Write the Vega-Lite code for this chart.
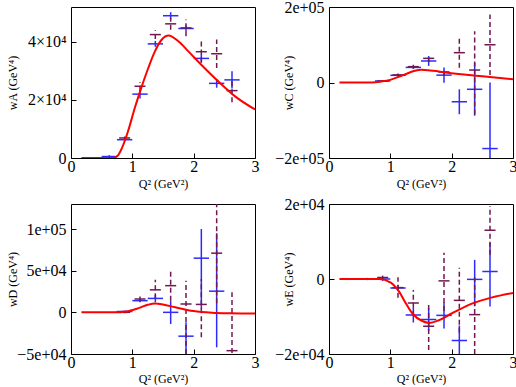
{
 "$schema": "https://vega.github.io/schema/vega-lite/v6.json",
 "padding": {"left": 5, "top": -2, "right": 0, "bottom": 0},
 "datasets": {
  "pts": [
   {"p":"A","s":"b","q2":0.625,"y":500,"ylo":0,"yhi":1000,"xlo":0.5,"xhi":0.75},
   {"p":"A","s":"b","q2":0.875,"y":6300,"ylo":5800,"yhi":6800,"xlo":0.75,"xhi":1.0},
   {"p":"A","s":"b","q2":1.125,"y":22000,"ylo":20500,"yhi":23500,"xlo":1.0,"xhi":1.25},
   {"p":"A","s":"b","q2":1.375,"y":39300,"ylo":38300,"yhi":40300,"xlo":1.25,"xhi":1.5},
   {"p":"A","s":"b","q2":1.625,"y":49000,"ylo":47800,"yhi":50200,"xlo":1.5,"xhi":1.75},
   {"p":"A","s":"b","q2":1.875,"y":44600,"ylo":43600,"yhi":45600,"xlo":1.75,"xhi":2.0},
   {"p":"A","s":"b","q2":2.125,"y":34300,"ylo":32800,"yhi":35800,"xlo":2.0,"xhi":2.25},
   {"p":"A","s":"b","q2":2.375,"y":25700,"ylo":24200,"yhi":27200,"xlo":2.25,"xhi":2.5},
   {"p":"A","s":"b","q2":2.625,"y":26900,"ylo":23900,"yhi":29900,"xlo":2.5,"xhi":2.75},
   {"p":"A","s":"m","q2":0.875,"y":6900,"ylo":6400,"yhi":7400,"xlo":0.785,"xhi":0.965},
   {"p":"A","s":"m","q2":1.125,"y":24700,"ylo":23200,"yhi":26200,"xlo":1.035,"xhi":1.215},
   {"p":"A","s":"m","q2":1.375,"y":42500,"ylo":41000,"yhi":44000,"xlo":1.285,"xhi":1.465},
   {"p":"A","s":"m","q2":1.625,"y":46200,"ylo":44200,"yhi":48200,"xlo":1.535,"xhi":1.715},
   {"p":"A","s":"m","q2":1.875,"y":44800,"ylo":41900,"yhi":47700,"xlo":1.785,"xhi":1.965},
   {"p":"A","s":"m","q2":2.125,"y":36600,"ylo":32900,"yhi":40300,"xlo":2.035,"xhi":2.215},
   {"p":"A","s":"m","q2":2.375,"y":35900,"ylo":31000,"yhi":40800,"xlo":2.285,"xhi":2.465},
   {"p":"A","s":"m","q2":2.625,"y":23200,"ylo":19200,"yhi":27200,"xlo":2.535,"xhi":2.715},

   {"p":"C","s":"b","q2":0.875,"y":4000,"ylo":2000,"yhi":6000,"xlo":0.75,"xhi":1.0},
   {"p":"C","s":"b","q2":1.125,"y":19000,"ylo":16000,"yhi":22000,"xlo":1.0,"xhi":1.25},
   {"p":"C","s":"b","q2":1.375,"y":40000,"ylo":36000,"yhi":44000,"xlo":1.25,"xhi":1.5},
   {"p":"C","s":"b","q2":1.625,"y":57000,"ylo":44000,"yhi":70000,"xlo":1.5,"xhi":1.75},
   {"p":"C","s":"b","q2":1.875,"y":19500,"ylo":-500,"yhi":39500,"xlo":1.75,"xhi":2.0},
   {"p":"C","s":"b","q2":2.125,"y":-51000,"ylo":-84000,"yhi":-18000,"xlo":2.0,"xhi":2.25},
   {"p":"C","s":"b","q2":2.375,"y":-18000,"ylo":-88000,"yhi":52000,"xlo":2.25,"xhi":2.5},
   {"p":"C","s":"b","q2":2.625,"y":-175000,"ylo":-350000,"yhi":0,"xlo":2.5,"xhi":2.75},
   {"p":"C","s":"m","q2":0.875,"y":4000,"ylo":2000,"yhi":6000,"xlo":0.785,"xhi":0.965},
   {"p":"C","s":"m","q2":1.125,"y":20000,"ylo":16000,"yhi":24000,"xlo":1.035,"xhi":1.215},
   {"p":"C","s":"m","q2":1.375,"y":42000,"ylo":37000,"yhi":47000,"xlo":1.285,"xhi":1.465},
   {"p":"C","s":"m","q2":1.625,"y":64000,"ylo":54000,"yhi":74000,"xlo":1.535,"xhi":1.715},
   {"p":"C","s":"m","q2":1.875,"y":28000,"ylo":18000,"yhi":38000,"xlo":1.785,"xhi":1.965},
   {"p":"C","s":"m","q2":2.125,"y":79000,"ylo":39000,"yhi":119000,"xlo":2.035,"xhi":2.215},
   {"p":"C","s":"m","q2":2.375,"y":33000,"ylo":-85000,"yhi":136000,"xlo":2.285,"xhi":2.465},
   {"p":"C","s":"m","q2":2.625,"y":100000,"ylo":20000,"yhi":180000,"xlo":2.535,"xhi":2.715},

   {"p":"D","s":"b","q2":0.875,"y":1000,"ylo":0,"yhi":2000,"xlo":0.75,"xhi":1.0},
   {"p":"D","s":"b","q2":1.125,"y":14000,"ylo":12000,"yhi":16000,"xlo":1.0,"xhi":1.25},
   {"p":"D","s":"b","q2":1.375,"y":16700,"ylo":12000,"yhi":21000,"xlo":1.25,"xhi":1.5},
   {"p":"D","s":"b","q2":1.625,"y":0,"ylo":-14000,"yhi":14000,"xlo":1.5,"xhi":1.75},
   {"p":"D","s":"b","q2":1.875,"y":-28600,"ylo":-50000,"yhi":-12000,"xlo":1.75,"xhi":2.0},
   {"p":"D","s":"b","q2":2.125,"y":65000,"ylo":4000,"yhi":100000,"xlo":2.0,"xhi":2.25},
   {"p":"D","s":"b","q2":2.375,"y":25400,"ylo":-42000,"yhi":95000,"xlo":2.25,"xhi":2.5},
   {"p":"D","s":"m","q2":0.875,"y":0,"ylo":-1000,"yhi":1000,"xlo":0.785,"xhi":0.965},
   {"p":"D","s":"m","q2":1.125,"y":16000,"ylo":13000,"yhi":19000,"xlo":1.035,"xhi":1.215},
   {"p":"D","s":"m","q2":1.375,"y":27000,"ylo":17000,"yhi":39000,"xlo":1.285,"xhi":1.465},
   {"p":"D","s":"m","q2":1.625,"y":32000,"ylo":14000,"yhi":50000,"xlo":1.535,"xhi":1.715},
   {"p":"D","s":"m","q2":1.875,"y":10000,"ylo":-50000,"yhi":38000,"xlo":1.785,"xhi":1.965},
   {"p":"D","s":"m","q2":2.125,"y":9500,"ylo":-30000,"yhi":40000,"xlo":2.035,"xhi":2.215},
   {"p":"D","s":"m","q2":2.375,"y":71000,"ylo":11000,"yhi":131000,"xlo":2.285,"xhi":2.465},
   {"p":"D","s":"m","q2":2.625,"y":-46000,"ylo":-116000,"yhi":24000,"xlo":2.535,"xhi":2.715},

   {"p":"E","s":"b","q2":0.625,"y":0,"ylo":-300,"yhi":300,"xlo":0.5,"xhi":0.75},
   {"p":"E","s":"b","q2":0.875,"y":0,"ylo":-500,"yhi":500,"xlo":0.75,"xhi":1.0},
   {"p":"E","s":"b","q2":1.125,"y":-2400,"ylo":-3200,"yhi":-1600,"xlo":1.0,"xhi":1.25},
   {"p":"E","s":"b","q2":1.375,"y":-9600,"ylo":-11600,"yhi":-7600,"xlo":1.25,"xhi":1.5},
   {"p":"E","s":"b","q2":1.625,"y":-10800,"ylo":-13800,"yhi":-7800,"xlo":1.5,"xhi":1.75},
   {"p":"E","s":"b","q2":1.875,"y":-9700,"ylo":-13200,"yhi":-6200,"xlo":1.75,"xhi":2.0},
   {"p":"E","s":"b","q2":2.125,"y":-16400,"ylo":-20400,"yhi":-12400,"xlo":2.0,"xhi":2.25},
   {"p":"E","s":"b","q2":2.375,"y":-100,"ylo":-7300,"yhi":5100,"xlo":2.25,"xhi":2.5},
   {"p":"E","s":"b","q2":2.625,"y":2000,"ylo":-7300,"yhi":9700,"xlo":2.5,"xhi":2.75},
   {"p":"E","s":"m","q2":0.875,"y":400,"ylo":-100,"yhi":900,"xlo":0.785,"xhi":0.965},
   {"p":"E","s":"m","q2":1.125,"y":-2300,"ylo":-5000,"yhi":500,"xlo":1.035,"xhi":1.215},
   {"p":"E","s":"m","q2":1.375,"y":-6400,"ylo":-9800,"yhi":-2900,"xlo":1.285,"xhi":1.465},
   {"p":"E","s":"m","q2":1.625,"y":-12600,"ylo":-18900,"yhi":-6800,"xlo":1.535,"xhi":1.715},
   {"p":"E","s":"m","q2":1.875,"y":-500,"ylo":-8500,"yhi":7000,"xlo":1.785,"xhi":1.965},
   {"p":"E","s":"m","q2":2.125,"y":-5700,"ylo":-14300,"yhi":3000,"xlo":2.035,"xhi":2.215},
   {"p":"E","s":"m","q2":2.375,"y":-9500,"ylo":-20000,"yhi":500,"xlo":2.285,"xhi":2.465},
   {"p":"E","s":"m","q2":2.625,"y":13000,"ylo":6500,"yhi":19500,"xlo":2.535,"xhi":2.715}
  ],
  "curve": [
   {"p":"A","q2":0.17,"w":0},{"p":"A","q2":0.5,"w":0},{"p":"A","q2":0.65,"w":0},{"p":"A","q2":0.72,"w":200},{"p":"A","q2":0.77,"w":1000},{"p":"A","q2":0.83,"w":3400},{"p":"A","q2":0.93,"w":9200},{"p":"A","q2":1.04,"w":17200},{"p":"A","q2":1.15,"w":24400},{"p":"A","q2":1.26,"w":31000},{"p":"A","q2":1.37,"w":36800},{"p":"A","q2":1.48,"w":40800},{"p":"A","q2":1.59,"w":42200},{"p":"A","q2":1.75,"w":40200},{"p":"A","q2":1.91,"w":36800},{"p":"A","q2":2.12,"w":32200},{"p":"A","q2":2.4,"w":26400},{"p":"A","q2":2.67,"w":21300},{"p":"A","q2":3.0,"w":16700},
   {"p":"C","q2":0.17,"w":0},{"p":"C","q2":0.7,"w":0},{"p":"C","q2":0.85,"w":2500},{"p":"C","q2":1.0,"w":7000},{"p":"C","q2":1.2,"w":19000},{"p":"C","q2":1.4,"w":31000},{"p":"C","q2":1.5,"w":34000},{"p":"C","q2":1.7,"w":31000},{"p":"C","q2":1.9,"w":26500},{"p":"C","q2":2.2,"w":21000},{"p":"C","q2":2.5,"w":16500},{"p":"C","q2":3.0,"w":8800},
   {"p":"D","q2":0.17,"w":0},{"p":"D","q2":0.7,"w":0},{"p":"D","q2":0.9,"w":1000},{"p":"D","q2":1.1,"w":5000},{"p":"D","q2":1.25,"w":9000},{"p":"D","q2":1.37,"w":10700},{"p":"D","q2":1.5,"w":9500},{"p":"D","q2":1.7,"w":6000},{"p":"D","q2":2.0,"w":1500},{"p":"D","q2":2.3,"w":-500},{"p":"D","q2":2.6,"w":-1200},{"p":"D","q2":3.0,"w":-1500},
   {"p":"E","q2":0.17,"w":0},{"p":"E","q2":0.82,"w":0},{"p":"E","q2":1.0,"w":-900},{"p":"E","q2":1.14,"w":-3300},{"p":"E","q2":1.25,"w":-6400},{"p":"E","q2":1.36,"w":-9200},{"p":"E","q2":1.52,"w":-11200},{"p":"E","q2":1.63,"w":-11700},{"p":"E","q2":1.79,"w":-11000},{"p":"E","q2":2.0,"w":-9200},{"p":"E","q2":2.34,"w":-6500},{"p":"E","q2":2.66,"w":-4900},{"p":"E","q2":3.0,"w":-3700}
  ]
 },
 "columns": 2,
 "spacing": {"row": 46, "column": 74},
 "bounds": "flush",
 "concat": [
   {"width": 184, "height": 151, "layer": [
    {"data":{"name":"pts"},"transform":[{"filter":"datum.p==='A' && datum.s==='b'"}],"mark":{"type":"rule","color":"#2b2bff","strokeWidth":1.5,"clip":true},
     "encoding":{"x":{"field":"q2","type":"quantitative","scale":{"domain":[0,3],"nice":false,"zero":false},
       "axis":{"title":"Q² (GeV²)","values":[0,0.5,1,1.5,2,2.5,3],"labelExpr":"datum.value % 1 === 0 ? '' + datum.value : ''","tickSize":{"condition":{"test":"datum.value % 1 === 0","value":-5},"value":-3},"labelPadding":5,"titleX":92,"titleY":25,"titleBaseline":"middle","labelFlush":false,"labelOverlap":false}},
      "y":{"field":"ylo","type":"quantitative","scale":{"domain":[0,52000],"nice":false,"zero":false},
       "axis":{"title":"wA (GeV⁴)","values":[0,10000,20000,30000,40000,50000],"labelExpr":"datum.value === 0 ? '0' : datum.value === 20000 ? '2×10⁴' : datum.value === 40000 ? '4×10⁴' : ''","tickSize":{"condition":{"test":"datum.value % 20000 === 0","value":-5},"value":-3},"labelPadding":10,"titleX":-59,"titleBaseline":"middle","labelOverlap":false,"labelFlush":false}},
      "y2":{"field":"yhi"}}},
    {"data":{"name":"pts"},"transform":[{"filter":"datum.p==='A' && datum.s==='b'"}],"mark":{"type":"rule","color":"#2b2bff","strokeWidth":1.5,"clip":true},
     "encoding":{"x":{"field":"xlo","type":"quantitative","scale":{"domain":[0,3],"nice":false,"zero":false}},"x2":{"field":"xhi"},
      "y":{"field":"y","type":"quantitative","scale":{"domain":[0,52000],"nice":false,"zero":false}}}},
    {"data":{"name":"pts"},"transform":[{"filter":"datum.p==='A' && datum.s==='m'"}],"mark":{"type":"rule","color":"#701850","strokeWidth":1.5,"strokeDash":[5,3],"clip":true},
     "encoding":{"x":{"field":"q2","type":"quantitative","scale":{"domain":[0,3],"nice":false,"zero":false}},
      "y":{"field":"ylo","type":"quantitative","scale":{"domain":[0,52000],"nice":false,"zero":false}},"y2":{"field":"yhi"}}},
    {"data":{"name":"pts"},"transform":[{"filter":"datum.p==='A' && datum.s==='m'"}],"mark":{"type":"rule","color":"#701850","strokeWidth":1.5,"clip":true},
     "encoding":{"x":{"field":"xlo","type":"quantitative","scale":{"domain":[0,3],"nice":false,"zero":false}},"x2":{"field":"xhi"},
      "y":{"field":"y","type":"quantitative","scale":{"domain":[0,52000],"nice":false,"zero":false}}}},
    {"data":{"name":"curve"},"transform":[{"filter":"datum.p==='A'"}],"mark":{"type":"line","color":"#ff0000","strokeWidth":2,"interpolate":"monotone","clip":true},
     "encoding":{"x":{"field":"q2","type":"quantitative","scale":{"domain":[0,3],"nice":false,"zero":false}},
      "y":{"field":"w","type":"quantitative","scale":{"domain":[0,52000],"nice":false,"zero":false}}}}
   ]},
   {"width": 184, "height": 151, "layer": [
    {"data":{"name":"pts"},"transform":[{"filter":"datum.p==='C' && datum.s==='b'"}],"mark":{"type":"rule","color":"#2b2bff","strokeWidth":1.5,"clip":true},
     "encoding":{"x":{"field":"q2","type":"quantitative","scale":{"domain":[0,3],"nice":false,"zero":false},
       "axis":{"title":"Q² (GeV²)","values":[0,0.5,1,1.5,2,2.5,3],"labelExpr":"datum.value % 1 === 0 ? '' + datum.value : ''","tickSize":{"condition":{"test":"datum.value % 1 === 0","value":-5},"value":-3},"labelPadding":5,"titleX":92,"titleY":25,"titleBaseline":"middle","labelFlush":false,"labelOverlap":false}},
      "y":{"field":"ylo","type":"quantitative","scale":{"domain":[-200000,200000],"nice":false,"zero":false},
       "axis":{"title":"wC (GeV⁴)","values":[-200000,-150000,-100000,-50000,0,50000,100000,150000,200000],"labelExpr":"datum.value === 0 ? '0' : datum.value === 100000 ? '1e+05' : datum.value === 200000 ? '2e+05' : datum.value === -100000 ? '−1e+05' : datum.value === -200000 ? '−2e+05' : ''","tickSize":{"condition":{"test":"datum.value % 100000 === 0","value":-5},"value":-3},"labelPadding":10,"titleX":-41,"titleBaseline":"middle","labelOverlap":false,"labelFlush":false}},
      "y2":{"field":"yhi"}}},
    {"data":{"name":"pts"},"transform":[{"filter":"datum.p==='C' && datum.s==='b'"}],"mark":{"type":"rule","color":"#2b2bff","strokeWidth":1.5,"clip":true},
     "encoding":{"x":{"field":"xlo","type":"quantitative","scale":{"domain":[0,3],"nice":false,"zero":false}},"x2":{"field":"xhi"},
      "y":{"field":"y","type":"quantitative","scale":{"domain":[-200000,200000],"nice":false,"zero":false}}}},
    {"data":{"name":"pts"},"transform":[{"filter":"datum.p==='C' && datum.s==='m'"}],"mark":{"type":"rule","color":"#701850","strokeWidth":1.5,"strokeDash":[5,3],"clip":true},
     "encoding":{"x":{"field":"q2","type":"quantitative","scale":{"domain":[0,3],"nice":false,"zero":false}},
      "y":{"field":"ylo","type":"quantitative","scale":{"domain":[-200000,200000],"nice":false,"zero":false}},"y2":{"field":"yhi"}}},
    {"data":{"name":"pts"},"transform":[{"filter":"datum.p==='C' && datum.s==='m'"}],"mark":{"type":"rule","color":"#701850","strokeWidth":1.5,"clip":true},
     "encoding":{"x":{"field":"xlo","type":"quantitative","scale":{"domain":[0,3],"nice":false,"zero":false}},"x2":{"field":"xhi"},
      "y":{"field":"y","type":"quantitative","scale":{"domain":[-200000,200000],"nice":false,"zero":false}}}},
    {"data":{"name":"curve"},"transform":[{"filter":"datum.p==='C'"}],"mark":{"type":"line","color":"#ff0000","strokeWidth":2,"interpolate":"monotone","clip":true},
     "encoding":{"x":{"field":"q2","type":"quantitative","scale":{"domain":[0,3],"nice":false,"zero":false}},
      "y":{"field":"w","type":"quantitative","scale":{"domain":[-200000,200000],"nice":false,"zero":false}}}}
   ]},
   {"width": 184, "height": 150, "layer": [
    {"data":{"name":"pts"},"transform":[{"filter":"datum.p==='D' && datum.s==='b'"}],"mark":{"type":"rule","color":"#2b2bff","strokeWidth":1.5,"clip":true},
     "encoding":{"x":{"field":"q2","type":"quantitative","scale":{"domain":[0,3],"nice":false,"zero":false},
       "axis":{"title":"Q² (GeV²)","values":[0,0.5,1,1.5,2,2.5,3],"labelExpr":"datum.value % 1 === 0 ? '' + datum.value : ''","tickSize":{"condition":{"test":"datum.value % 1 === 0","value":-5},"value":-3},"labelPadding":5,"titleX":92,"titleY":24,"titleBaseline":"middle","labelFlush":false,"labelOverlap":false}},
      "y":{"field":"ylo","type":"quantitative","scale":{"domain":[-50000,130000],"nice":false,"zero":false},
       "axis":{"title":"wD (GeV⁴)","values":[-50000,-25000,0,25000,50000,75000,100000,125000],"labelExpr":"datum.value === 0 ? '0' : datum.value === 50000 ? '5e+04' : datum.value === 100000 ? '1e+05' : datum.value === -50000 ? '−5e+04' : ''","tickSize":{"condition":{"test":"datum.value % 50000 === 0","value":-5},"value":-3},"labelPadding":10,"titleX":-59,"titleBaseline":"middle","labelOverlap":false,"labelFlush":false}},
      "y2":{"field":"yhi"}}},
    {"data":{"name":"pts"},"transform":[{"filter":"datum.p==='D' && datum.s==='b'"}],"mark":{"type":"rule","color":"#2b2bff","strokeWidth":1.5,"clip":true},
     "encoding":{"x":{"field":"xlo","type":"quantitative","scale":{"domain":[0,3],"nice":false,"zero":false}},"x2":{"field":"xhi"},
      "y":{"field":"y","type":"quantitative","scale":{"domain":[-50000,130000],"nice":false,"zero":false}}}},
    {"data":{"name":"pts"},"transform":[{"filter":"datum.p==='D' && datum.s==='m'"}],"mark":{"type":"rule","color":"#701850","strokeWidth":1.5,"strokeDash":[5,3],"clip":true},
     "encoding":{"x":{"field":"q2","type":"quantitative","scale":{"domain":[0,3],"nice":false,"zero":false}},
      "y":{"field":"ylo","type":"quantitative","scale":{"domain":[-50000,130000],"nice":false,"zero":false}},"y2":{"field":"yhi"}}},
    {"data":{"name":"pts"},"transform":[{"filter":"datum.p==='D' && datum.s==='m'"}],"mark":{"type":"rule","color":"#701850","strokeWidth":1.5,"clip":true},
     "encoding":{"x":{"field":"xlo","type":"quantitative","scale":{"domain":[0,3],"nice":false,"zero":false}},"x2":{"field":"xhi"},
      "y":{"field":"y","type":"quantitative","scale":{"domain":[-50000,130000],"nice":false,"zero":false}}}},
    {"data":{"name":"curve"},"transform":[{"filter":"datum.p==='D'"}],"mark":{"type":"line","color":"#ff0000","strokeWidth":2,"interpolate":"monotone","clip":true},
     "encoding":{"x":{"field":"q2","type":"quantitative","scale":{"domain":[0,3],"nice":false,"zero":false}},
      "y":{"field":"w","type":"quantitative","scale":{"domain":[-50000,130000],"nice":false,"zero":false}}}}
   ]},
   {"width": 184, "height": 150, "layer": [
    {"data":{"name":"pts"},"transform":[{"filter":"datum.p==='E' && datum.s==='b'"}],"mark":{"type":"rule","color":"#2b2bff","strokeWidth":1.5,"clip":true},
     "encoding":{"x":{"field":"q2","type":"quantitative","scale":{"domain":[0,3],"nice":false,"zero":false},
       "axis":{"title":"Q² (GeV²)","values":[0,0.5,1,1.5,2,2.5,3],"labelExpr":"datum.value % 1 === 0 ? '' + datum.value : ''","tickSize":{"condition":{"test":"datum.value % 1 === 0","value":-5},"value":-3},"labelPadding":5,"titleX":92,"titleY":24,"titleBaseline":"middle","labelFlush":false,"labelOverlap":false}},
      "y":{"field":"ylo","type":"quantitative","scale":{"domain":[-20000,20000],"nice":false,"zero":false},
       "axis":{"title":"wE (GeV⁴)","values":[-20000,-15000,-10000,-5000,0,5000,10000,15000,20000],"labelExpr":"datum.value === 0 ? '0' : datum.value === 10000 ? '1e+04' : datum.value === 20000 ? '2e+04' : datum.value === -10000 ? '−1e+04' : datum.value === -20000 ? '−2e+04' : ''","tickSize":{"condition":{"test":"datum.value % 10000 === 0","value":-5},"value":-3},"labelPadding":10,"titleX":-41,"titleBaseline":"middle","labelOverlap":false,"labelFlush":false}},
      "y2":{"field":"yhi"}}},
    {"data":{"name":"pts"},"transform":[{"filter":"datum.p==='E' && datum.s==='b'"}],"mark":{"type":"rule","color":"#2b2bff","strokeWidth":1.5,"clip":true},
     "encoding":{"x":{"field":"xlo","type":"quantitative","scale":{"domain":[0,3],"nice":false,"zero":false}},"x2":{"field":"xhi"},
      "y":{"field":"y","type":"quantitative","scale":{"domain":[-20000,20000],"nice":false,"zero":false}}}},
    {"data":{"name":"pts"},"transform":[{"filter":"datum.p==='E' && datum.s==='m'"}],"mark":{"type":"rule","color":"#701850","strokeWidth":1.5,"strokeDash":[5,3],"clip":true},
     "encoding":{"x":{"field":"q2","type":"quantitative","scale":{"domain":[0,3],"nice":false,"zero":false}},
      "y":{"field":"ylo","type":"quantitative","scale":{"domain":[-20000,20000],"nice":false,"zero":false}},"y2":{"field":"yhi"}}},
    {"data":{"name":"pts"},"transform":[{"filter":"datum.p==='E' && datum.s==='m'"}],"mark":{"type":"rule","color":"#701850","strokeWidth":1.5,"clip":true},
     "encoding":{"x":{"field":"xlo","type":"quantitative","scale":{"domain":[0,3],"nice":false,"zero":false}},"x2":{"field":"xhi"},
      "y":{"field":"y","type":"quantitative","scale":{"domain":[-20000,20000],"nice":false,"zero":false}}}},
    {"data":{"name":"curve"},"transform":[{"filter":"datum.p==='E'"}],"mark":{"type":"line","color":"#ff0000","strokeWidth":2,"interpolate":"monotone","clip":true},
     "encoding":{"x":{"field":"q2","type":"quantitative","scale":{"domain":[0,3],"nice":false,"zero":false}},
      "y":{"field":"w","type":"quantitative","scale":{"domain":[-20000,20000],"nice":false,"zero":false}}}}
   ]}
 ],
 "config": {
  "font": "Liberation Serif",
  "background": "white",
  "view": {"stroke": "black", "strokeWidth": 1},
  "axis": {"domain": false, "grid": false, "labelFont": "Liberation Serif", "labelFontSize": 16, "labelColor": "black", "titleFont": "Liberation Serif", "titleFontSize": 12, "titleFontWeight": "normal", "titleColor": "black", "tickColor": "black", "tickWidth": 1}
 }
}
